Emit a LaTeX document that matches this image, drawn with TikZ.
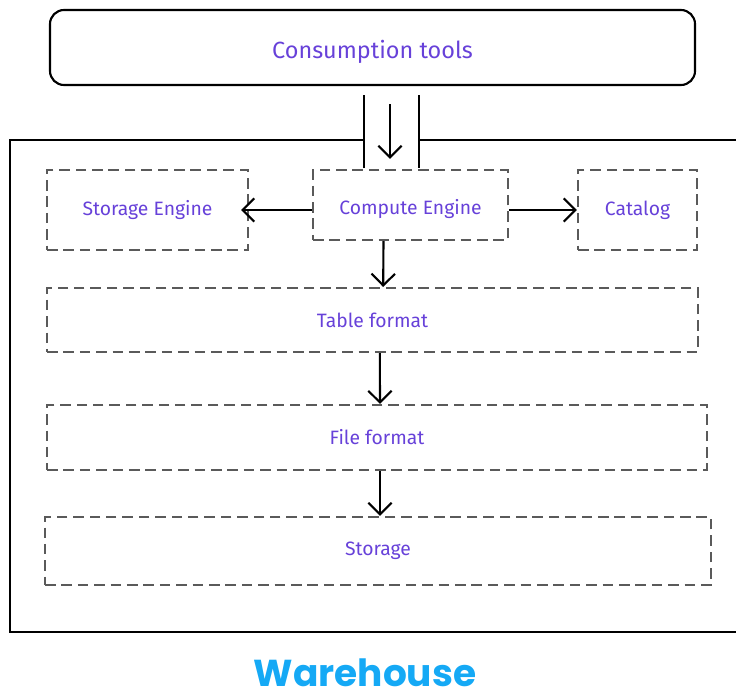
\documentclass[tikz,border=0pt]{standalone}
\usepackage{fontspec}
\usepackage{tikz}
\usetikzlibrary{arrows.meta}
\setmainfont{Fira Sans}
\newfontfamily\labelfont{Poppins}
\definecolor{inkviolet}{HTML}{6741D9}
\definecolor{inkblue}{HTML}{15A9F5}
\definecolor{dashgray}{HTML}{5A5A5A}

\begin{document}
\begin{tikzpicture}[x=0.03cm, y=-0.03cm, line width=1.8pt,
    layer/.style={draw=dashgray, dash pattern=on 9pt off 5pt, text=inkviolet,
                  font=\fontsize{16.5}{19}\selectfont, inner sep=0pt},
    arr/.style={-{Straight Barb[length=10pt, width=20pt, line width=1.8pt]}}]
    \useasboundingbox (0,0) rectangle (736,698);
    % client side
    \node[draw, rounded corners=12pt, minimum width=19.35cm, minimum height=2.25cm,
          text=inkviolet, font=\fontsize{20}{24}\selectfont,
          text height=0.8cm] (tools) at (372.5,47.5) {Consumption tools};
    % warehouse outline, open where the query comes in
    \draw (364,140) -- (10,140) -- (10,632) -- (740,632)
          (419,140) -- (740,140)
          (364,95) -- (364,168)
          (419,95) -- (419,168);
    \coordinate (entry) at (390,0);
    % engines
    \node[layer, minimum width=6.03cm, minimum height=2.4cm] (storeng) at (147.5,210) {Storage Engine};
    \node[layer, minimum width=5.85cm, minimum height=2.1cm, text height=0.71cm] (compute) at (410.5,205) {Compute Engine};
    \node[layer, minimum width=3.57cm, minimum height=2.4cm] (catalog) at (637.5,210) {Catalog};
    % stacked layers
    \node[layer, minimum width=19.53cm, minimum height=1.92cm] (table) at (372.5,320) {Table format};
    \node[layer, minimum width=19.8cm, minimum height=1.95cm] (file) at (377,437.5) {File format};
    \node[layer, minimum width=19.98cm, minimum height=2.04cm] (storage) at (378,551) {Storage};
    % flow
    \draw[arr, shorten <=0.54cm, shorten >=0.3cm] (tools.south -| entry) -- (compute.north -| entry);
    \draw[arr] (compute.west |- storeng.east) -- ([xshift=-0.24cm]storeng.east);
    \draw[arr] (compute.east |- catalog.west) -- (catalog.west);
    \draw[arr] ([xshift=-0.81cm]compute.south) -- ([xshift=0.32cm]table.north);
    \draw[arr] ([xshift=0.22cm]table.south) -- ([xshift=0.09cm]file.north);
    \draw[arr] ([xshift=0.09cm]file.south) -- ([xshift=0.06cm]storage.north);
    \node[text=inkblue, font=\labelfont\bfseries\fontsize{32}{38}\selectfont,
          anchor=base, inner sep=0pt] (title) at (365,686) {Warehouse};
\end{tikzpicture}
\end{document}
